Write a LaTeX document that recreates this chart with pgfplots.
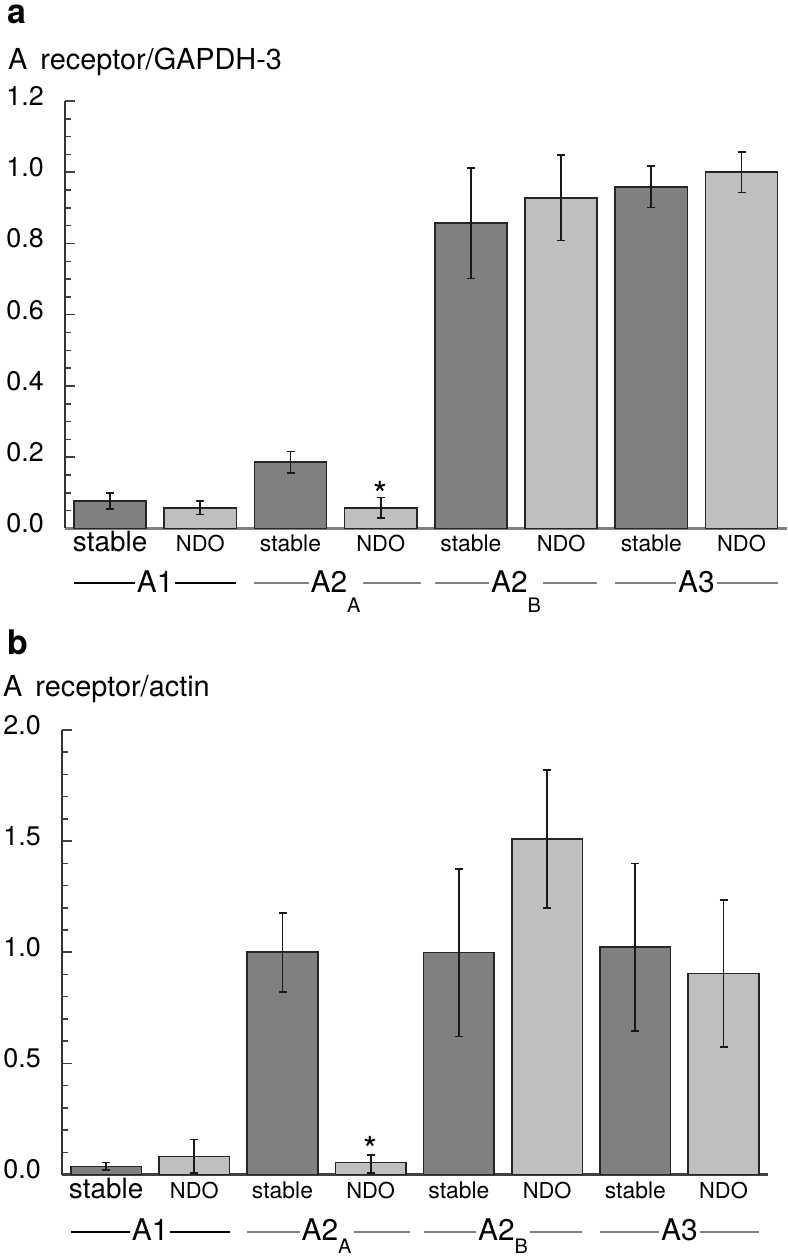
\documentclass[border=0pt]{standalone}
\usepackage{pgfplots}
\pgfplotsset{compat=1.18}
\usepackage{fontspec}
\setmainfont{TeX Gyre Heros}
\definecolor{darkbar}{gray}{0.5}
\definecolor{lightbar}{gray}{0.75}
\definecolor{grpgray}{gray}{0.5}
\newcommand{\fs}[1]{\fontsize{#1}{#1}\selectfont}
\tikzset{grp/.style={anchor=base, font=\fs{30}, fill=white, inner xsep=2bp, inner ysep=0bp}}
\pgfplotsset{
  barax/.style={
    scale only axis, anchor=south west, clip=false,
    xmin=-0.5, xmax=7.5, ymin=0,
    axis x line*=bottom, axis y line*=left,
    xtick={0,...,7},
    xticklabels={{\fs{28}stable},NDO,{\fs{23}stable},NDO,{\fs{23}stable},NDO,{\fs{23}stable},NDO},
    xtick style={draw=none},
    xticklabel style={anchor=base, inner sep=0pt, yshift=-23.5bp, font=\fs{22}},
    ytick pos=left, tick align=inside,
    major tick length=10bp, minor tick length=6bp,
    ytick style={line width=1.5bp, color=black!75},
    minor y tick style={line width=1.5bp, color=black!75},
    yticklabel style={anchor=east, inner sep=0pt, xshift=-21bp, yshift=5bp, font=\fs{27},
      /pgf/number format/.cd, fixed, fixed zerofill, precision=1},
    /pgf/number format/assume math mode=true,
    y axis line style={line width=2bp, black!80},
  },
  errb/.style={error bars/.cd, y dir=both, y explicit,
    error bar style={line width=1.7bp, black!90},
    error mark options={rotate=90, line width=1.7bp, black!90, mark size=4bp}},
  darkb/.style={ybar, bar width=0.8, bar shift=0pt, fill=darkbar, draw=black!85, line width=1.5bp, errb},
  lightb/.style={ybar, bar width=0.8, bar shift=0pt, fill=lightbar, draw=black!85, line width=1.5bp, errb},
}
\begin{document}
\begin{tikzpicture}
\path[use as bounding box] (0,0) rectangle (788bp,1256bp);
% panel a
\node[anchor=base west, font=\bfseries\fs{34}, inner sep=0pt] at (7bp,1232.5bp) {\smash{a}};
\node[anchor=base west, font=\fs{29}, inner sep=0pt] at (8bp,1186bp) {A\hspace{0.45em}receptor/GAPDH-3};
\begin{axis}[barax, at={(65bp,727.5bp)}, width=721.6bp, height=427.5bp,
  ymax=1.2, ytick={0,0.2,0.4,0.6,0.8,1.0,1.2}, minor y tick num=3,
  x axis line style={line width=3bp, black!50}]
\addplot[darkb] coordinates {
 (0,0.077) +- (0,0.023)
 (2,0.186) +- (0,0.030)
 (4,0.857) +- (0,0.155)
 (6,0.959) +- (0,0.058)};
\addplot[lightb] coordinates {
 (1,0.058) +- (0,0.019)
 (3,0.058) +- (0,0.029)
 (5,0.928) +- (0,0.120)
 (7,1.000) +- (0,0.057)};
\node[anchor=base, font=\fs{36}, inner sep=0pt, yshift=-10bp] at (axis cs:3,0.088) {*};
\draw[black, line width=2bp] ([yshift=-55bp]axis cs:-0.4,0) -- ([yshift=-55bp]axis cs:1.4,0);
\draw[grpgray, line width=2bp] ([yshift=-55bp]axis cs:1.6,0) -- ([yshift=-55bp]axis cs:3.45,0);
\draw[grpgray, line width=2bp] ([yshift=-55bp]axis cs:3.6,0) -- ([yshift=-55bp]axis cs:5.4,0);
\draw[grpgray, line width=2bp] ([yshift=-55bp]axis cs:5.6,0) -- ([yshift=-55bp]axis cs:7.4,0);
\node[grp, yshift=-64.5bp] at (axis cs:0.5,0) {A1};
\node[grp, yshift=-64.5bp] at (axis cs:2.5,0) {A2\raisebox{-20bp}{\fs{20}A}};
\node[grp, yshift=-64.5bp] at (axis cs:4.5,0) {A2\raisebox{-20bp}{\fs{20}B}};
\node[grp, yshift=-64.5bp] at (axis cs:6.5,0) {A3};
\end{axis}
% panel b
\node[anchor=base west, font=\bfseries\fs{34}, inner sep=0pt] at (7bp,601bp) {b};
\node[anchor=base west, font=\fs{29}, inner sep=0pt] at (3bp,559bp) {A\hspace{0.45em}receptor/actin};
\begin{axis}[barax, at={(62bp,81.5bp)}, width=705.6bp, height=444.5bp,
  ymax=2.0, ytick={0,0.5,1.0,1.5,2.0}, minor y tick num=4,
  x axis line style={line width=2bp, black!75}]
\addplot[darkb] coordinates {
 (0,0.037) +- (0,0.017)
 (2,1.000) +- (0,0.178)
 (4,0.998) +- (0,0.377)
 (6,1.023) +- (0,0.376)};
\addplot[lightb] coordinates {
 (1,0.082) +- (0,0.075)
 (3,0.054) += (0,0.033) -= (0,0.048)
 (5,1.509) +- (0,0.310)
 (7,0.905) +- (0,0.330)};
\node[anchor=base, font=\fs{36}, inner sep=0pt, yshift=-7bp] at (axis cs:3,0.087) {*};
\draw[black, line width=2bp] ([yshift=-57bp]axis cs:-0.4,0) -- ([yshift=-57bp]axis cs:1.4,0);
\draw[grpgray, line width=2bp] ([yshift=-57bp]axis cs:1.6,0) -- ([yshift=-57bp]axis cs:3.45,0);
\draw[grpgray, line width=2bp] ([yshift=-57bp]axis cs:3.6,0) -- ([yshift=-57bp]axis cs:5.4,0);
\draw[grpgray, line width=2bp] ([yshift=-57bp]axis cs:5.6,0) -- ([yshift=-57bp]axis cs:7.4,0);
\node[grp, yshift=-66bp] at (axis cs:0.5,0) {A1};
\node[grp, yshift=-66bp] at (axis cs:2.5,0) {A2\raisebox{-13bp}{\fs{20}A}};
\node[grp, yshift=-66bp] at (axis cs:4.5,0) {A2\raisebox{-13bp}{\fs{20}B}};
\node[grp, yshift=-66bp] at (axis cs:6.5,0) {A3};
\end{axis}
\end{tikzpicture}
\end{document}
